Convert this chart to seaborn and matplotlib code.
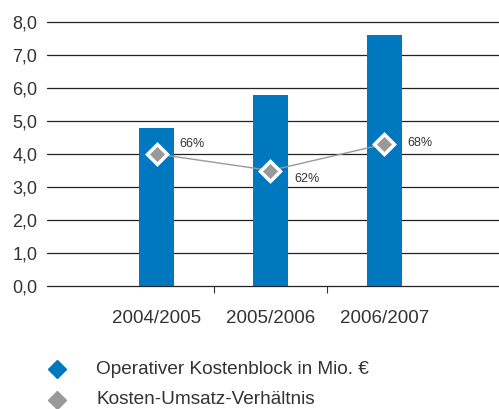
import matplotlib
matplotlib.use("Agg")
import matplotlib.pyplot as plt
from matplotlib.lines import Line2D
import seaborn as sns
import pandas as pd

# data
periods = ["2004/2005", "2005/2006", "2006/2007"]
cost_block = [4.8, 5.8, 7.6]          # Operativer Kostenblock in Mio. EUR
ratio_pos = [4.0, 3.5, 4.3]           # plotted height of the ratio markers
ratio_labels = ["66%", "62%", "68%"]  # Kosten-Umsatz-Verhaeltnis
y_ticks = [0, 1, 2, 3, 4, 5, 6, 7, 8]
legend_labels = ["Operativer Kostenblock in Mio. €", "Kosten-Umsatz-Verhältnis"]

blue = "#0078BF"
grey = "#999999"
text_col = "#333333"

sns.set_style("white")
plt.rcParams["font.family"] = ["Liberation Sans", "DejaVu Sans"]

df = pd.DataFrame({"period": periods, "cost": cost_block, "ratio": ratio_pos})

fig = plt.figure(figsize=(4.99, 4.09), dpi=100)
ax = fig.add_axes([0.0942, 0.3007, 0.906, 0.6455])

sns.barplot(data=df, x="period", y="cost", color=blue, width=0.31,
            saturation=1, linewidth=0, ax=ax, zorder=3)
sns.lineplot(data=df, x="period", y="ratio", color=grey, linewidth=1,
             marker="D", markersize=10, markerfacecolor=grey,
             markeredgecolor="white", markeredgewidth=2.5, ax=ax, zorder=4)

# percentage labels next to the markers
offsets = [(16, 7), (17, -6), (17, 1)]
for i, (lab, off) in enumerate(zip(ratio_labels, offsets)):
    ax.annotate(lab, (i, ratio_pos[i]), xytext=off, textcoords="offset points",
                fontsize=9, color=text_col, va="center", ha="left")

ax.set_xlim(-0.965, 3.01)
ax.set_ylim(0, 8)
ax.set_yticks(y_ticks)
ax.set_yticklabels([f"{v:.1f}".replace(".", ",") for v in y_ticks],
                   fontsize=13, color=text_col)
ax.tick_params(axis="y", length=0, pad=7)
ax.tick_params(axis="x", which="major", length=0, labelsize=13.5,
               labelcolor=text_col, pad=17)
ax.set_xticks([0.5, 1.5], minor=True)
ax.tick_params(axis="x", which="minor", bottom=True, direction="out",
               length=5, width=0.8, color=text_col)
ax.set_xlabel("")
ax.set_ylabel("")

for y in y_ticks:
    ax.axhline(y, color="#222222", linewidth=0.9, zorder=1, clip_on=False)
for s in ax.spines.values():
    s.set_visible(False)

# legend below the chart
legend_colors = [blue, grey]
legend_y = [1 - 369 / 409, 1 - 400 / 409]
for lab, col, yy in zip(legend_labels, legend_colors, legend_y):
    fig.add_artist(Line2D([57 / 499], [yy], marker="D", linestyle="",
                          markersize=9, color=col, transform=fig.transFigure))
    fig.text(96 / 499, yy, lab, fontsize=13.7, color=text_col,
             va="center", ha="left")

fig.savefig("out.png", dpi=100)
